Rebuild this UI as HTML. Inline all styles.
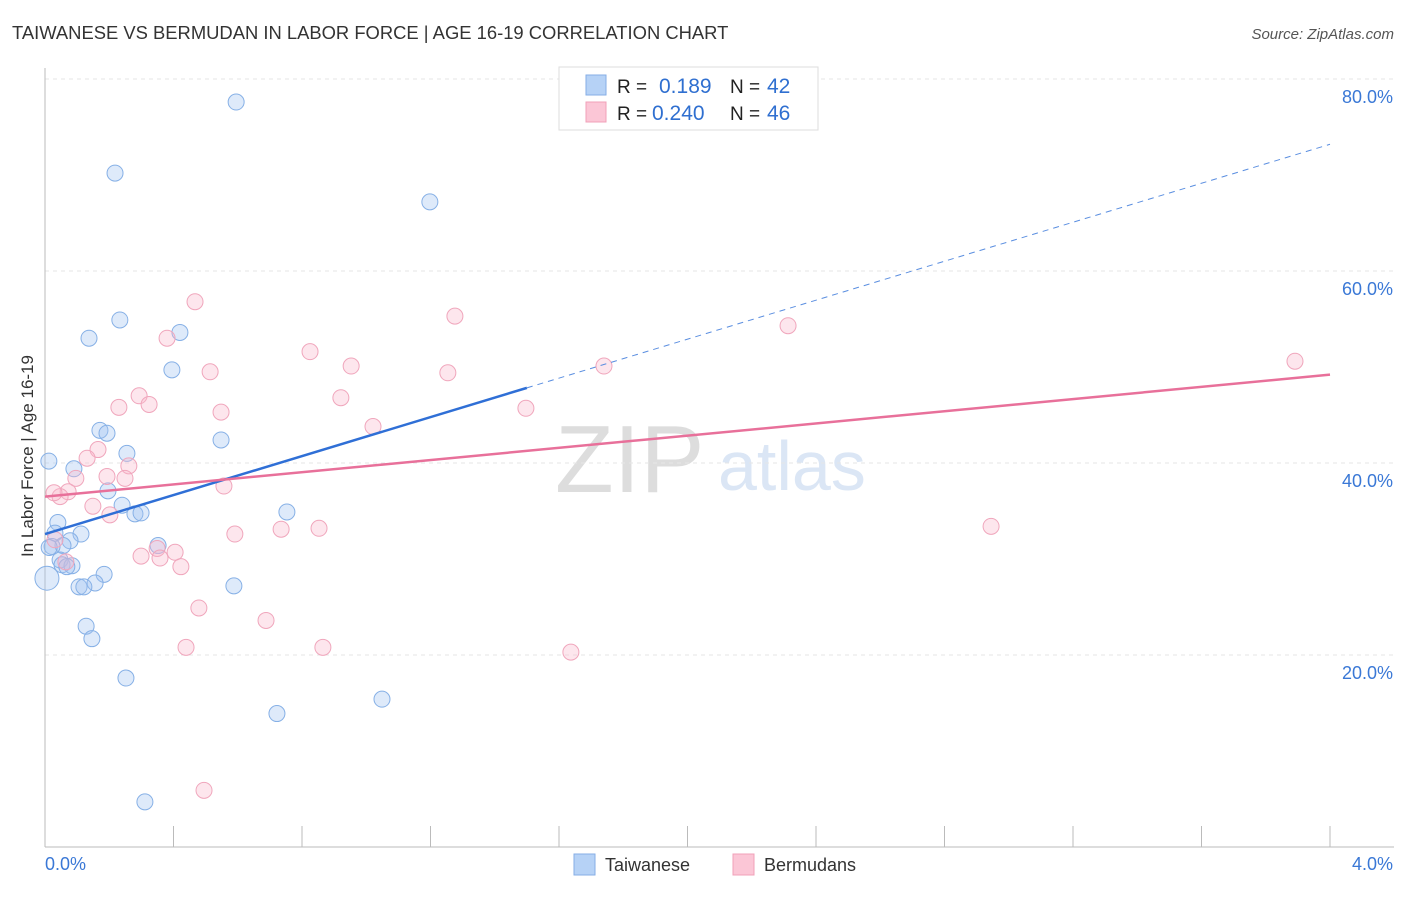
<!DOCTYPE html>
<html><head><meta charset="utf-8"><style>
body{margin:0;background:#fff;font-family:"Liberation Sans",sans-serif;}
svg text{font-family:"Liberation Sans",sans-serif;}
</style></head><body>
<svg id="chart" width="1406" height="892" viewBox="0 0 1406 892">
<text x="12" y="39" font-size="18.4" fill="#333">TAIWANESE VS BERMUDAN IN LABOR FORCE | AGE 16-19 CORRELATION CHART</text>
<text x="1394" y="39" font-size="15" fill="#555" font-style="italic" text-anchor="end">Source: ZipAtlas.com</text>
<text x="33" y="456" font-size="17" fill="#333" text-anchor="middle" transform="rotate(-90 33 456)">In Labor Force | Age 16-19</text>
<text x="555" y="492" font-size="96" fill="#ddd" font-family="Liberation Serif">ZIP</text>
<text x="718" y="490" font-size="70" fill="#dbe6f5">atlas</text>
<g id="grid"></g><g id="marks"></g>
<g>
<rect x="559" y="67" width="259" height="63" fill="#fff" stroke="#ddd"/>
<rect x="586" y="75" width="20" height="20" fill="#b6d2f6" stroke="#86aee6"/>
<rect x="586" y="102" width="20" height="20" fill="#fbc6d6" stroke="#f0a0b8"/>
<text x="617" y="93" font-size="19" fill="#222">R = </text><text x="659" y="93" font-size="21" fill="#2f6fd0">0.189</text>
<text x="730" y="93" font-size="19" fill="#222">N = </text><text x="767" y="93" font-size="21" fill="#2f6fd0">42</text>
<text x="617" y="120" font-size="19" fill="#222">R = </text><text x="652" y="120" font-size="21" fill="#2f6fd0">0.240</text>
<text x="730" y="120" font-size="19" fill="#222">N = </text><text x="767" y="120" font-size="21" fill="#2f6fd0">46</text>
</g>
<g>
<rect x="574" y="854" width="21" height="21" fill="#b6d2f6" stroke="#86aee6"/>
<text x="605" y="871" font-size="18" fill="#333">Taiwanese</text>
<rect x="733" y="854" width="21" height="21" fill="#fbc6d6" stroke="#f0a0b8"/>
<text x="764" y="871" font-size="18" fill="#333">Bermudans</text>
</g>
</svg>
<script>
const bx=[0.595,0.218,1.198,0.233,0.137,0.420,0.395,0.548,0.171,0.193,0.255,0.012,0.090,0.196,0.240,0.280,0.299,0.753,0.040,0.031,0.112,0.078,0.056,0.022,0.047,0.053,0.084,0.068,0.184,0.156,0.106,0.121,0.588,0.128,0.146,0.252,1.049,0.722,0.311,0.006,0.352,0.013];
const by=[77.6,70.2,67.2,54.9,53.0,53.6,49.7,42.4,43.4,43.1,41.0,40.2,39.4,37.1,35.6,34.7,34.8,34.9,33.8,32.7,32.6,31.9,31.4,31.3,29.9,29.4,29.3,29.2,28.4,27.5,27.1,27.1,27.2,23.0,21.7,17.6,15.4,13.9,4.7,28.0,31.4,31.2];
const px=[0.467,1.276,2.313,3.891,0.380,0.825,0.953,0.514,1.254,1.740,0.293,0.230,0.324,0.548,0.921,1.021,1.497,0.165,0.131,0.261,0.096,0.193,0.249,0.557,0.072,0.047,0.028,0.149,0.202,0.591,0.735,0.853,2.945,0.349,0.405,0.299,0.358,0.423,0.479,0.688,0.439,0.865,1.637,0.495,0.031,0.065];
const py=[56.8,55.3,54.3,50.6,53.0,51.6,50.1,49.5,49.4,50.1,47.0,45.8,46.1,45.3,46.8,43.8,45.7,41.4,40.5,39.7,38.4,38.6,38.4,37.6,37.0,36.5,36.9,35.5,34.6,32.6,33.1,33.2,33.4,31.1,30.7,30.3,30.1,29.2,24.9,23.6,20.8,20.8,20.3,5.9,32.0,29.7];
const blueTrend=[32.6,73.2]; const blueSolidEnd=1.5;
const pinkTrend=[36.5,49.2];
const yTicks=[20,40,60,80];
const xTickVals=[0,0.4,0.8,1.2,1.6,2.0,2.4,2.8,3.2,3.6,4.0];
const NS="http://www.w3.org/2000/svg";
const X=v=>45+v/4*1285, Y=v=>847-v/80*768;
const grid=document.getElementById('grid'), marks=document.getElementById('marks');
function mk(tag,attrs,parent){const e=document.createElementNS(NS,tag);for(const k in attrs)e.setAttribute(k,attrs[k]);parent.appendChild(e);return e;}
yTicks.forEach(t=>{
 const l=mk('line',{x1:45,x2:1394,y1:Y(t),y2:Y(t),stroke:'#e6e6e6','stroke-dasharray':'4,4'},grid);
 
 
 const tx=mk('text',{x:1393,y:Y(t)+24,'font-size':18,fill:'#3a78d6','text-anchor':'end'},grid);
 tx.textContent=t.toFixed(1)+'%';
 
 
});
const ax=mk('line',{x1:45,x2:45,y1:68,y2:847,stroke:'#bbb'},grid);


const xa=mk('line',{x1:45,x2:1394,y1:847,y2:847,stroke:'#bbb'},grid);


xTickVals.forEach(t=>{const l=mk('line',{x1:X(t),x2:X(t),y1:826,y2:847,stroke:'#bbb'},grid);
 
 });
[[0,'0.0%','start',45],[4,'4.0%','end',1393]].forEach(d=>{const t=mk('text',{x:d[3],y:870,'font-size':18,fill:'#3a78d6','text-anchor':d[2]},grid);t.textContent=d[1];
 
 });
bx.forEach((v,i)=>{const c=mk('circle',{cx:X(v),cy:Y(by[i]),r:i==39?12:8,fill:'rgba(160,196,240,0.35)',stroke:'#86b0e6','stroke-width':1},marks);
 
 });
px.forEach((v,i)=>{const c=mk('circle',{cx:X(v),cy:Y(py[i]),r:8,fill:'rgba(248,184,204,0.35)',stroke:'#f0a6bc','stroke-width':1},marks);
 
 });
const bAt=x=>blueTrend[0]+(blueTrend[1]-blueTrend[0])*x/4;
const l1=mk('line',{x1:X(0),y1:Y(bAt(0)),x2:X(blueSolidEnd),y2:Y(bAt(blueSolidEnd)),stroke:'#2f6fd6','stroke-width':2.5},marks);


const l2=mk('line',{x1:X(blueSolidEnd),y1:Y(bAt(blueSolidEnd)),x2:X(4),y2:Y(bAt(4)),stroke:'#5a8ee0','stroke-width':1,'stroke-dasharray':'6,5'},marks);


const l3=mk('line',{x1:X(0),y1:Y(pinkTrend[0]),x2:X(4),y2:Y(pinkTrend[1]),stroke:'#e8709a','stroke-width':2.5},marks);


</script>
</body></html>
